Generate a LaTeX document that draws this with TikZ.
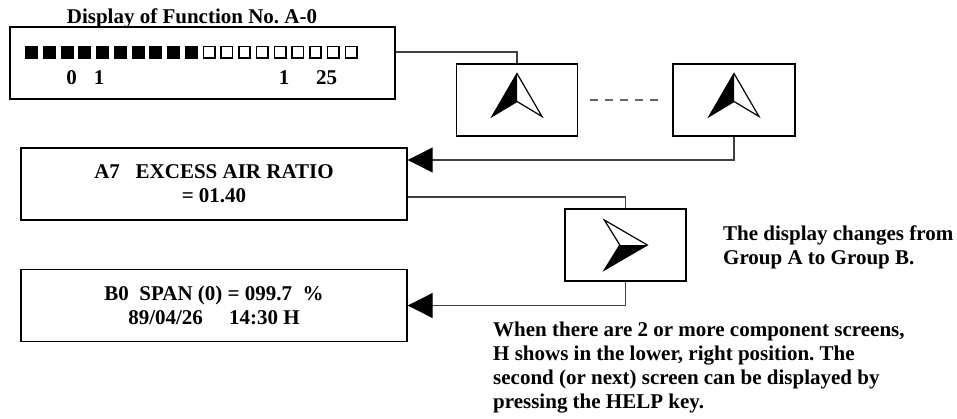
\documentclass[tikz,border=0pt]{standalone}
\usepackage{fontspec}
\setmainfont{Liberation Serif}
\usetikzlibrary{arrows.meta}
\frenchspacing

\tikzset{
  upkey/.pic={
    \fill (0,-26.5) -- (-25,16.5) -- (0,1.5) -- cycle;
    \draw[line width=1.2pt] (0,-26.5) -- (-25,16.5) -- (0,1.5) -- (25,16.5) -- cycle;
  },
  rightkey/.pic={
    \fill (22,0) -- (-5.5,0) -- (-21,25) -- cycle;
    \draw[line width=1.2pt] (-21,-25) -- (22,0) -- (-21,25) -- (-5.5,0) -- cycle;
  }
}

\begin{document}
\begin{tikzpicture}[x=1pt,y=-1pt,
    every node/.style={font=\fontsize{21}{24}\selectfont\bfseries,inner sep=0pt},
    panel/.style={draw,line width=1.4pt,minimum width=386pt,minimum height=72pt,align=center},
    keybox/.style={draw,line width=1.4pt,minimum width=121pt,minimum height=72pt},
    wire/.style={draw=black!75,line width=1.1pt},
    feed/.style={wire,-{Triangle[length=25pt,width=25pt,color=black]}},
    remark/.style={align=left,anchor=base west}]
  \useasboundingbox (0,0) rectangle (957,418);

  % function display (group A, bar graph)
  \node[anchor=base] (title) at (192,23) {Display of Function No. A-0};
  \node[panel,minimum width=385pt] (fn) at (202.5,63) {};
  \foreach \i in {0,...,9}
    \fill (25+17.75*\i,45.5) rectangle ++(13,13);
  \foreach \i in {10,...,18}
    \draw[line width=1.6pt] (25.8+17.75*\i,46.3) rectangle ++(11.4,11.4);
  \node[anchor=base] (lo0) at (71.7,84) {0};
  \node[anchor=base] (lo1) at (99,84) {1};
  \node[anchor=base] (hi1) at (284,84) {1};
  \node[anchor=base] (hi25) at (326.7,84) {25};

  \node[panel] (fnA) at (214,184) {A7\ \ \ EXCESS AIR RATIO\\= 01.40};
  \node[panel] (fnB) at (214,305.5) {B0\ \ SPAN (0) = 099.7\ \ \%\\89/04/26\quad\ 14:30 H};

  % keys
  \node[keybox] (keyA) at (517,100) {};
  \node[keybox,minimum width=122pt] (keyB) at (734,100) {};
  \node[keybox] (keyC) at (625.3,245) {};
  \path (keyA.center) pic {upkey};
  \path (keyB.center) pic {upkey};
  \path (keyC.center) pic {rightkey};

  \draw[wire] ([yshift=11pt]fn.east) -| (keyA.north);
  \draw[black!60,line width=1.1pt,dash pattern=on 8pt off 7pt]
    ([xshift=12pt]keyA.east) -- ([xshift=-12pt]keyB.west);
  \draw[feed] (keyB.south) |- ([yshift=24pt]fnA.east);
  \draw[wire] ([yshift=-13pt]fnA.east) -| (keyC.north);
  \draw[feed] (keyC.south) |- (fnB.east);

  \node[remark] (change) at (723,264) {The display changes from\\Group A to Group B.};
  \node[remark] (helpnote) at (493,408.7) {When there are 2 or more component screens,\\H shows in the lower, right position. The\\second (or next) screen can be displayed by\\pressing the HELP key.};
\end{tikzpicture}
\end{document}
